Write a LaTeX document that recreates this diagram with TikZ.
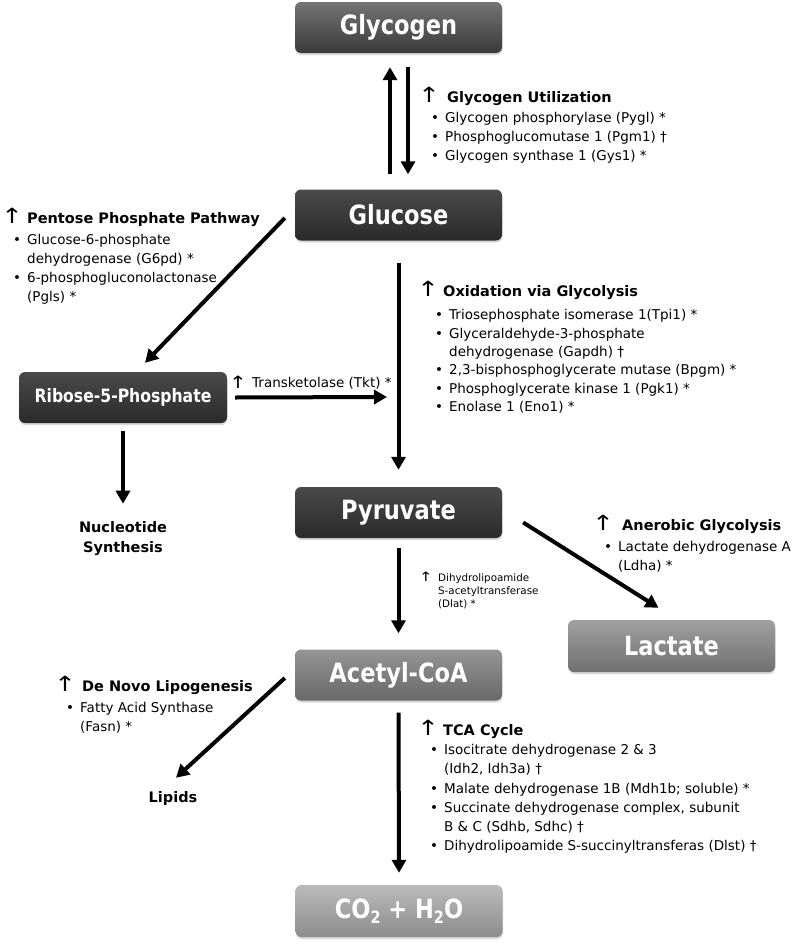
\documentclass[tikz,border=0pt]{standalone}
\usepackage{fontspec}
\usepackage{graphicx}
\setmainfont{DejaVu Sans}
\newfontfamily\boxfont{DejaVu Sans}[FakeStretch=0.85]
\usetikzlibrary{arrows.meta,shadows}
\definecolor{gAtop}{HTML}{747474}
\definecolor{gAbot}{HTML}{3A3A3A}
\definecolor{gBtop}{HTML}{4A4A4A}
\definecolor{gBbot}{HTML}{2A2A2A}
\definecolor{gCtop}{HTML}{959595}
\definecolor{gCbot}{HTML}{686868}
\definecolor{gDtop}{HTML}{A0A0A0}
\definecolor{gDbot}{HTML}{707070}
\definecolor{gEtop}{HTML}{BBBBBB}
\definecolor{gEbot}{HTML}{8C8C8C}
\newcommand\bul{\makebox[14pt][l]{•}}
\newcommand\ind{\hspace*{14pt}}
\newcommand\upglyph{\scalebox{1.25}[1]{↑}}
\tikzset{
  metbox/.style={rounded corners=6pt, minimum width=207pt, minimum height=51pt,
    inner sep=0pt, text=white, font=\boxfont\bfseries\fontsize{26.5}{30}\selectfont,
    drop shadow={opacity=0.3, shadow xshift=0.5pt, shadow yshift=-2pt}},
  arr/.style={line width=4pt, -{Triangle[length=13pt,width=14pt]}},
  body/.style={font=\fontsize{13.5}{19}\selectfont, inner sep=0pt, align=left, anchor=north west},
  ttl/.style={font=\bfseries\fontsize{14.5}{18}\selectfont, inner sep=0pt, anchor=base west},
  uparr/.style={font=\fontsize{21}{22}\selectfont, inner sep=0pt, anchor=base west},
  endtxt/.style={font=\bfseries\fontsize{14.5}{20}\selectfont, inner sep=0pt, align=center},
}
\begin{document}
\begin{tikzpicture}[x=1pt,y=-1pt]
\useasboundingbox[fill=white] (0,0) rectangle (795,945);

% boxes
\node[metbox, top color=gAtop, bottom color=gAbot] (glycogen) at (398.5,27.5) {Glycogen};
\node[metbox, top color=gBtop, bottom color=gBbot] (glucose) at (398.5,215) {Glucose};
\node[metbox, top color=gBtop, bottom color=gBbot, minimum width=208pt,
      font=\boxfont\bfseries\fontsize{18.4}{22}\selectfont] (ribose) at (123,397.5) {Ribose-5-Phosphate};
\node[metbox, top color=gBtop, bottom color=gBbot] (pyruvate) at (398.5,512.5) {Pyruvate};
\node[metbox, top color=gCtop, bottom color=gCbot] (acetyl) at (398.5,675) {Acetyl-CoA};
\node[metbox, top color=gDtop, bottom color=gDbot, minimum height=52pt] (lactate) at (671.5,646) {Lactate};
\node[metbox, top color=gEtop, bottom color=gEbot, minimum height=52pt] (co2) at (399,911)
  {CO\raisebox{-5pt}{\fontsize{17}{17}\selectfont 2} + H\raisebox{-5pt}{\fontsize{17}{17}\selectfont 2}O};

% end products
\node[endtxt] (nucl) at (123,539) {Nucleotide\\Synthesis};
\node[endtxt] (lipids) at (173,798) {Lipids};
\coordinate (tktend) at (387,397);

% arrows
\draw[arr] ([xshift=-8.5pt,yshift=15pt]glucose.north) -- ([xshift=-8.5pt,yshift=-14pt]glycogen.south);
\draw[arr] ([xshift=9.5pt,yshift=-14pt]glycogen.south) -- ([xshift=9.5pt,yshift=15pt]glucose.north);
\draw[arr] ([xshift=-10pt,yshift=-3pt]glucose.west) -- ([xshift=22pt,yshift=9pt]ribose.north);
\draw[arr] ([yshift=-22pt]glucose.south) -- ([yshift=17pt]pyruvate.north);
\draw[arr] ([xshift=8pt]ribose.east) -- (tktend);
\draw[arr] ([yshift=-8pt]ribose.south) -- ([yshift=18pt]nucl.north);
\draw[arr] ([yshift=-10pt]pyruvate.south) -- ([yshift=16pt]acetyl.north);
\draw[arr] ([xshift=21pt,yshift=-10pt]pyruvate.east) -- ([xshift=-13pt,yshift=12pt]lactate.north);
\draw[arr] ([xshift=-10pt,yshift=-3pt]acetyl.west) -- ([xshift=3pt,yshift=13pt]lipids.north);
\draw[arr] ([yshift=-12pt]acetyl.south) -- ([yshift=12pt]co2.north);

% Glycogen utilization
\node[uparr] (u1) at (418,102) {\upglyph};
\node[ttl] (t1) at (447,102) {Glycogen Utilization};
\node[body] (l1) at (431,109.2) {\strut\bul Glycogen phosphorylase (Pygl) *\\
  \bul Phosphoglucomutase 1 (Pgm1) †\\
  \bul Glycogen synthase 1 (Gys1) *};

% Pentose phosphate
\node[uparr] (u2) at (1,223) {\upglyph};
\node[ttl] (t2) at (27,223) {Pentose Phosphate Pathway};
\node[body] (l2) at (13,231.2) {\strut\bul Glucose-6-phosphate\\
  \ind dehydrogenase (G6pd) *\\
  \bul 6-phosphogluconolactonase\\
  \ind (Pgls) *};

% Oxidation via glycolysis
\node[uparr] (u3) at (417,296) {\upglyph};
\node[ttl] (t3) at (443,296) {Oxidation via Glycolysis};
\node[body, font=\fontsize{13.5}{18.4}\selectfont] (l3) at (435,306.6) {\strut\bul Triosephosphate isomerase 1(Tpi1) *\\
  \bul Glyceraldehyde-3-phosphate\\
  \ind dehydrogenase (Gapdh) †\\
  \bul 2,3-bisphosphoglycerate mutase (Bpgm) *\\
  \bul Phosphoglycerate kinase 1 (Pgk1) *\\
  \bul Enolase 1 (Eno1) *};

% Transketolase
\node[uparr, font=\fontsize{17}{18}\selectfont] (u4) at (229,388) {\upglyph};
\node[body, anchor=base west] (l4) at (252,387.5) {Transketolase (Tkt) *};

% Dlat
\node[uparr, font=\fontsize{13}{13}\selectfont] (u5) at (419,581) {\upglyph};
\node[body, font=\fontsize{10.3}{13}\selectfont] (l5) at (438,571.9) {\strut Dihydrolipoamide\\
  S-acetyltransferase\\
  (Dlat) *};

% Anerobic glycolysis
\node[uparr] (u6) at (592,530) {\upglyph};
\node[ttl] (t6) at (622,530) {Anerobic Glycolysis};
\node[body] (l6) at (604,538.2) {\strut\bul Lactate dehydrogenase A\\
  \ind (Ldha) *};

% De novo lipogenesis
\node[uparr] (u7) at (54,691) {\upglyph};
\node[ttl] (t7) at (82,691) {De Novo Lipogenesis};
\node[body] (l7) at (66,699.2) {\strut\bul Fatty Acid Synthase\\
  \ind (Fasn) *};

% TCA cycle
\node[uparr] (u8) at (417,735) {\upglyph};
\node[ttl] (t8) at (443,735) {TCA Cycle};
\node[body, font=\fontsize{13.5}{19.2}\selectfont] (l8) at (430,741) {\strut\bul Isocitrate dehydrogenase 2 \& 3\\
  \ind (Idh2, Idh3a) †\\
  \bul Malate dehydrogenase 1B (Mdh1b; soluble) *\\
  \bul Succinate dehydrogenase complex, subunit\\
  \ind B \& C (Sdhb, Sdhc) †\\
  \bul Dihydrolipoamide S-succinyltransferas (Dlst) †};
\end{tikzpicture}
\end{document}
